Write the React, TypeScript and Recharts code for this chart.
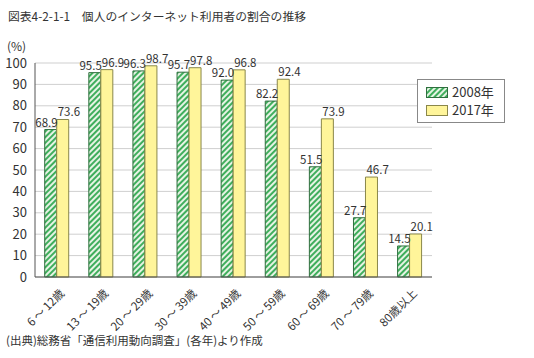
import { BarChart, Bar, XAxis, YAxis, CartesianGrid, Legend, LabelList } from "recharts";

const categories = ["6\u2009～\u200912歳", "13\u2009～\u200919歳", "20\u2009～\u200929歳", "30\u2009～\u200939歳", "40\u2009～\u200949歳", "50\u2009～\u200959歳", "60\u2009～\u200969歳", "70\u2009～\u200979歳", "80歳以上"];
const values2008 = [68.9, 95.5, 96.3, 95.7, 92.0, 82.2, 51.5, 27.7, 14.5];
const values2017 = [73.6, 96.9, 98.7, 97.8, 96.8, 92.4, 73.9, 46.7, 20.1];
const yTicks = [0, 10, 20, 30, 40, 50, 60, 70, 80, 90, 100];

const data = categories.map((name, i) => ({ name, y2008: values2008[i], y2017: values2017[i] }));

const FONT = "'Noto Sans CJK JP', 'Noto Sans', sans-serif";
const GREEN = "#3fae5c";
const GREEN_EDGE = "#2f6f3e";
const YELLOW = "#fff59a";
const YELLOW_EDGE = "#8a874a";

const XTick = (props: any) => {
  const { x, y, payload } = props;
  const tx = x + 8;
  const ty = y + 9;
  return (
    <text
      x={tx}
      y={ty}
      transform={`rotate(-45 ${tx} ${ty})`}
      textAnchor="end"
      fontSize={11.5}
      fill="#333"
      fontFamily={FONT}
    >
      {payload.value}
    </text>
  );
};

// 2008 labels lean left of the bar, 2017 labels lean right
const leftLabel = (props: any) => {
  const { x, y, width, value } = props;
  return (
    <text x={x + width + 1} y={y - 3} textAnchor="end" fontSize={11.5} fill="#333" fontFamily={FONT}>
      {Number(value).toFixed(1)}
    </text>
  );
};

const rightLabel = (props: any) => {
  const { x, y, value } = props;
  return (
    <text x={x + 1} y={y - 3} textAnchor="start" fontSize={11.5} fill="#333" fontFamily={FONT}>
      {Number(value).toFixed(1)}
    </text>
  );
};

const LegendBox = () => (
  <div
    style={{
      border: "1px solid #888",
      background: "#fff",
      padding: "3px 8px",
      fontFamily: FONT,
      fontSize: 13,
      color: "#333",
      lineHeight: "18px",
    }}
  >
    <div style={{ display: "flex", alignItems: "center" }}>
      <svg width={22} height={11} style={{ marginRight: 4 }}>
        <rect x={0.5} y={0.5} width={21} height={10} fill="url(#hatch)" stroke={GREEN_EDGE} />
      </svg>
      2008年
    </div>
    <div style={{ display: "flex", alignItems: "center" }}>
      <svg width={22} height={11} style={{ marginRight: 4 }}>
        <rect x={0.5} y={0.5} width={21} height={10} fill={YELLOW} stroke={YELLOW_EDGE} />
      </svg>
      2017年
    </div>
  </div>
);

export default function App() {
  return (
    <div style={{ position: "fixed", left: 0, top: 0, width: 534, height: 358, background: "#fff", fontFamily: FONT }}>
      <svg width={0} height={0} style={{ position: "absolute" }}>
        <defs>
          <pattern id="hatch" width={4} height={4} patternUnits="userSpaceOnUse" patternTransform="rotate(45)">
            <rect width={4} height={4} fill="#e6f3e4" />
            <rect width={2} height={4} fill={GREEN} />
          </pattern>
        </defs>
      </svg>
      <div style={{ position: "absolute", left: 8, top: 7, fontSize: 11.8, color: "#333", whiteSpace: "nowrap" }}>
        図表4-2-1-1　個人のインターネット利用者の割合の推移
      </div>
      <div style={{ position: "absolute", left: 7, top: 37, fontSize: 12, color: "#333" }}>(%)</div>
      <BarChart
        width={534}
        height={358}
        data={data}
        margin={{ top: 63, right: 14, left: 0, bottom: 0 }}
        barGap={0}
        barCategoryGap="22%"
      >
        <CartesianGrid horizontal vertical={false} stroke="#cfcfcf" />
        <XAxis
          dataKey="name"
          interval={0}
          tick={<XTick />}
          tickLine={false}
          axisLine={{ stroke: "#555" }}
          height={81}
        />
        <YAxis
          width={35}
          domain={[0, 100]}
          ticks={yTicks}
          interval={0}
          tickLine={false}
          axisLine={{ stroke: "#555" }}
          tick={{ fontSize: 13, fill: "#333", fontFamily: FONT }}
        />
        <Legend
          layout="vertical"
          verticalAlign="top"
          align="right"
          content={<LegendBox />}
          wrapperStyle={{ left: 417, top: 79, width: 88 }}
        />
        <Bar dataKey="y2008" name="2008年" fill="url(#hatch)" stroke={GREEN_EDGE} strokeWidth={1} isAnimationActive={false}>
          <LabelList dataKey="y2008" content={leftLabel} />
        </Bar>
        <Bar dataKey="y2017" name="2017年" fill={YELLOW} stroke={YELLOW_EDGE} strokeWidth={1} isAnimationActive={false}>
          <LabelList dataKey="y2017" content={rightLabel} />
        </Bar>
      </BarChart>
      <div style={{ position: "absolute", left: 6, top: 332, fontSize: 11.5, color: "#333", whiteSpace: "nowrap" }}>
        (出典)総務省「通信利用動向調査」(各年)より作成
      </div>
    </div>
  );
}
